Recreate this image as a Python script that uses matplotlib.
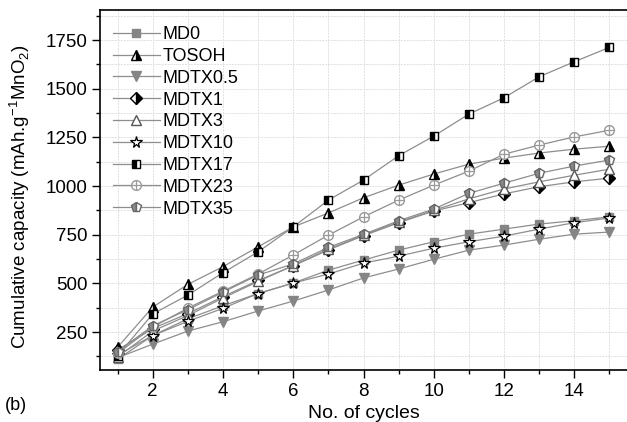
import numpy as np
import matplotlib
matplotlib.use("Agg")
import matplotlib.pyplot as plt
from matplotlib.ticker import MultipleLocator

plt.rcParams['font.family'] = ['Liberation Sans', 'DejaVu Sans']

cycles = list(range(1, 16))

md0 = [110, 232, 318, 385, 448, 502, 568, 620, 671, 714, 753, 779, 805, 822, 842]
tosoh = [172, 378, 495, 586, 688, 790, 862, 940, 1005, 1062, 1113, 1144, 1170, 1190, 1205]
mdtx05 = [118, 188, 255, 303, 358, 409, 466, 528, 574, 624, 671, 697, 727, 753, 764]
mdtx1 = [158, 268, 345, 432, 515, 590, 672, 745, 812, 872, 915, 960, 997, 1022, 1041]
mdtx3 = [122, 255, 335, 425, 510, 592, 676, 748, 815, 875, 935, 985, 1022, 1056, 1087]
mdtx10 = [132, 232, 305, 372, 448, 502, 548, 604, 640, 681, 714, 743, 779, 812, 836]
mdtx17 = [128, 343, 440, 555, 662, 790, 928, 1031, 1156, 1257, 1370, 1454, 1562, 1639, 1713]
mdtx23 = [140, 276, 373, 460, 548, 646, 748, 842, 928, 1005, 1077, 1164, 1211, 1253, 1287]
mdtx35 = [150, 282, 365, 455, 543, 600, 685, 752, 822, 882, 963, 1015, 1066, 1103, 1134]

fig = plt.figure(figsize=(6.27, 4.22), dpi=100)
ax = fig.add_axes([100/627, 52/422, 1 - 100/627, 360/422])

lc = '#8e8e8e'
lw = 0.9

def series(y, label, ms=7, **kw):
    line, = ax.plot(cycles, y, color=lc, lw=lw, ms=ms, label=label, **kw)
    return line

h = []
h.append(series(md0, 'MD0', marker='s', mfc='#858585', mec='#858585', ms=5.5))
h.append(series(tosoh, 'TOSOH', marker='^', fillstyle='right', mfc='black',
                mfcalt='white', mec='black'))
h.append(series(mdtx05, 'MDTX0.5', marker='v', mfc='#858585', mec='#858585', ms=7.5))
h.append(series(mdtx1, 'MDTX1', marker='D', fillstyle='right', mfc='black',
                mfcalt='white', mec='black', ms=6))
h.append(series(mdtx3, 'MDTX3', marker='^', mfc='white', mec='#555555'))
h.append(series(mdtx10, 'MDTX10', marker='*', mfc='white', mec='black', ms=8.5, mew=0.9))
h.append(series(mdtx17, 'MDTX17', marker='s', fillstyle='left', mfc='black',
                mfcalt='white', mec='black', ms=5.5))
l23 = series(mdtx23, 'MDTX23', marker='o', mfc='white', mec='#9a9a9a', ms=7)
p23, = ax.plot(cycles, mdtx23, ls='none', marker='+', color='#9a9a9a', ms=7, mew=0.9)
h.append((l23, p23))
h.append(series(mdtx35, 'MDTX35', marker='p', fillstyle='left', mfc='#8a8a8a',
                mfcalt='white', mec='#666666', ms=7.5))

labels = ['MD0', 'TOSOH', 'MDTX0.5', 'MDTX1', 'MDTX3', 'MDTX10', 'MDTX17',
          'MDTX23', 'MDTX35']
ax.legend(h, labels, loc='upper left', bbox_to_anchor=(0.0, 0.99), frameon=False,
          fontsize=13, handlelength=2.6, handletextpad=0.15, labelspacing=0.265,
          borderaxespad=0.3)

ax.set_xlim(0.5, 15.5)
ax.set_ylim(55, 1905)
ax.xaxis.set_minor_locator(MultipleLocator(1))
ax.yaxis.set_minor_locator(MultipleLocator(125))
ax.set_yticks([250, 500, 750, 1000, 1250, 1500, 1750])
ax.set_xticks([2, 4, 6, 8, 10, 12, 14])

ax.grid(True, which='both', color='#e0e0e0', lw=0.7, ls=(0, (2, 1)))
ax.set_axisbelow(True)
ax.tick_params(which='major', direction='out', length=6, width=1, labelsize=13.5, pad=3)
ax.tick_params(which='minor', direction='out', length=3, width=1)
for s in ['left', 'bottom', 'top']:
    ax.spines[s].set_linewidth(1.2)
ax.spines['right'].set_visible(False)

ax.set_xlabel('No. of cycles', fontsize=14, labelpad=4)
ax.set_ylabel('Cumulative capacity (mAh.g$^{\\mathregular{-1}}$MnO$_{\\mathregular{2}}$)',
              fontsize=13.5, labelpad=10)
ax.yaxis.label.set_y(0.483)
fig.text(5/627, 1 - 405/422, '(b)', fontsize=13, va='center', ha='left')

fig.savefig('out.png', dpi=100)
